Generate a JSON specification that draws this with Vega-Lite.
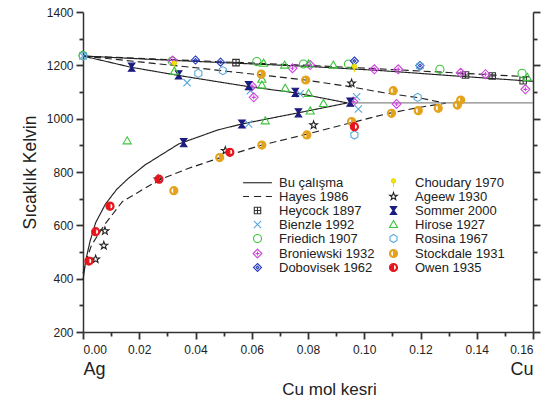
{
  "$schema": "https://vega.github.io/schema/vega-lite/v6.json",
  "width": 450,
  "height": 320,
  "padding": {"left": 21, "top": 6, "right": 8, "bottom": 5},
  "config": {
    "view": {"stroke": null},
    "font": "Liberation Sans",
    "axis": {"labelFont": "Liberation Sans", "titleFont": "Liberation Sans", "titleFontWeight": "normal", "labelColor": "#222", "titleColor": "#222", "domainColor": "#333", "tickColor": "#333", "grid": false}
  },
  "datasets": {
    "curves": [
      {"curve": "liq_s", "style": "solid", "x": 0, "T": 1235},
      {"curve": "liq_s", "style": "solid", "x": 0.025, "T": 1222},
      {"curve": "liq_s", "style": "solid", "x": 0.05, "T": 1210},
      {"curve": "liq_s", "style": "solid", "x": 0.08, "T": 1196},
      {"curve": "liq_s", "style": "solid", "x": 0.105, "T": 1181},
      {"curve": "liq_s", "style": "solid", "x": 0.13, "T": 1162},
      {"curve": "liq_s", "style": "solid", "x": 0.16, "T": 1140},
      {"curve": "liq_d", "style": "dashed", "x": 0, "T": 1235},
      {"curve": "liq_d", "style": "dashed", "x": 0.025, "T": 1224},
      {"curve": "liq_d", "style": "dashed", "x": 0.05, "T": 1213},
      {"curve": "liq_d", "style": "dashed", "x": 0.08, "T": 1200},
      {"curve": "liq_d", "style": "dashed", "x": 0.105, "T": 1187},
      {"curve": "liq_d", "style": "dashed", "x": 0.13, "T": 1173},
      {"curve": "liq_d", "style": "dashed", "x": 0.16, "T": 1156},
      {"curve": "sol_s", "style": "solid", "x": 0, "T": 1235},
      {"curve": "sol_s", "style": "solid", "x": 0.017, "T": 1193},
      {"curve": "sol_s", "style": "solid", "x": 0.034, "T": 1162},
      {"curve": "sol_s", "style": "solid", "x": 0.047, "T": 1140},
      {"curve": "sol_s", "style": "solid", "x": 0.059, "T": 1120},
      {"curve": "sol_s", "style": "solid", "x": 0.0755, "T": 1097},
      {"curve": "sol_s", "style": "solid", "x": 0.094, "T": 1059},
      {"curve": "solv_s", "style": "solid", "x": 0, "T": 395},
      {"curve": "solv_s", "style": "solid", "x": 0.001, "T": 470},
      {"curve": "solv_s", "style": "solid", "x": 0.0025, "T": 540},
      {"curve": "solv_s", "style": "solid", "x": 0.0045, "T": 610},
      {"curve": "solv_s", "style": "solid", "x": 0.008, "T": 680},
      {"curve": "solv_s", "style": "solid", "x": 0.012, "T": 735},
      {"curve": "solv_s", "style": "solid", "x": 0.016, "T": 775},
      {"curve": "solv_s", "style": "solid", "x": 0.022, "T": 826},
      {"curve": "solv_s", "style": "solid", "x": 0.034, "T": 905},
      {"curve": "solv_s", "style": "solid", "x": 0.048, "T": 958},
      {"curve": "solv_s", "style": "solid", "x": 0.0565, "T": 980},
      {"curve": "solv_s", "style": "solid", "x": 0.065, "T": 998},
      {"curve": "solv_s", "style": "solid", "x": 0.0766, "T": 1022},
      {"curve": "solv_s", "style": "solid", "x": 0.094, "T": 1059},
      {"curve": "sol_d", "style": "dashed", "x": 0, "T": 1235},
      {"curve": "sol_d", "style": "dashed", "x": 0.02, "T": 1213},
      {"curve": "sol_d", "style": "dashed", "x": 0.04, "T": 1191},
      {"curve": "sol_d", "style": "dashed", "x": 0.0518, "T": 1177},
      {"curve": "sol_d", "style": "dashed", "x": 0.065, "T": 1162},
      {"curve": "sol_d", "style": "dashed", "x": 0.079, "T": 1145},
      {"curve": "sol_d", "style": "dashed", "x": 0.095, "T": 1120},
      {"curve": "sol_d", "style": "dashed", "x": 0.107, "T": 1097},
      {"curve": "sol_d", "style": "dashed", "x": 0.119, "T": 1079},
      {"curve": "sol_d", "style": "dashed", "x": 0.129, "T": 1058},
      {"curve": "solv_d", "style": "dashed", "x": 0, "T": 420},
      {"curve": "solv_d", "style": "dashed", "x": 0.0015, "T": 480},
      {"curve": "solv_d", "style": "dashed", "x": 0.003, "T": 525},
      {"curve": "solv_d", "style": "dashed", "x": 0.0075, "T": 600},
      {"curve": "solv_d", "style": "dashed", "x": 0.014, "T": 689},
      {"curve": "solv_d", "style": "dashed", "x": 0.027, "T": 770},
      {"curve": "solv_d", "style": "dashed", "x": 0.0376, "T": 814},
      {"curve": "solv_d", "style": "dashed", "x": 0.048, "T": 851},
      {"curve": "solv_d", "style": "dashed", "x": 0.0636, "T": 901},
      {"curve": "solv_d", "style": "dashed", "x": 0.0796, "T": 942},
      {"curve": "solv_d", "style": "dashed", "x": 0.0955, "T": 985},
      {"curve": "solv_d", "style": "dashed", "x": 0.1086, "T": 1020},
      {"curve": "solv_d", "style": "dashed", "x": 0.12, "T": 1043},
      {"curve": "solv_d", "style": "dashed", "x": 0.129, "T": 1058}
    ],
    "eutectic": [
      {"x": 0.094, "T": 1059},
      {"x": 0.16, "T": 1059}
    ],
    "points": [
      {"series": "Heycock 1897", "x": 0.0544, "T": 1210},
      {"series": "Heycock 1897", "x": 0.136, "T": 1164},
      {"series": "Heycock 1897", "x": 0.1455, "T": 1160},
      {"series": "Heycock 1897", "x": 0.1565, "T": 1142},
      {"series": "Bienzle 1992", "x": 0, "T": 1235},
      {"series": "Bienzle 1992", "x": 0.037, "T": 1135},
      {"series": "Bienzle 1992", "x": 0.0595, "T": 1105},
      {"series": "Bienzle 1992", "x": 0.0772, "T": 1093},
      {"series": "Bienzle 1992", "x": 0.0973, "T": 1082},
      {"series": "Bienzle 1992", "x": 0.0979, "T": 1036},
      {"series": "Bienzle 1992", "x": 0.0589, "T": 980},
      {"series": "Friedich 1907", "x": 0, "T": 1237},
      {"series": "Friedich 1907", "x": 0.0317, "T": 1216},
      {"series": "Friedich 1907", "x": 0.0618, "T": 1214},
      {"series": "Friedich 1907", "x": 0.0784, "T": 1205},
      {"series": "Friedich 1907", "x": 0.0944, "T": 1205},
      {"series": "Friedich 1907", "x": 0.1269, "T": 1185},
      {"series": "Friedich 1907", "x": 0.1561, "T": 1170},
      {"series": "Broniewski 1932", "x": 0.0319, "T": 1218},
      {"series": "Broniewski 1932", "x": 0.0601, "T": 1122},
      {"series": "Broniewski 1932", "x": 0.0607, "T": 1080},
      {"series": "Broniewski 1932", "x": 0.0745, "T": 1189},
      {"series": "Broniewski 1932", "x": 0.0808, "T": 1201},
      {"series": "Broniewski 1932", "x": 0.0961, "T": 1064},
      {"series": "Broniewski 1932", "x": 0.1036, "T": 1185},
      {"series": "Broniewski 1932", "x": 0.1115, "T": 1055},
      {"series": "Broniewski 1932", "x": 0.1121, "T": 1185},
      {"series": "Broniewski 1932", "x": 0.1343, "T": 1172},
      {"series": "Broniewski 1932", "x": 0.1431, "T": 1167},
      {"series": "Broniewski 1932", "x": 0.1573, "T": 1110},
      {"series": "Dobovisek 1962", "x": 0.04, "T": 1220},
      {"series": "Dobovisek 1962", "x": 0.0489, "T": 1212},
      {"series": "Dobovisek 1962", "x": 0.0965, "T": 1216},
      {"series": "Dobovisek 1962", "x": 0.1198, "T": 1199},
      {"series": "Choudary 1970", "x": 0.0325, "T": 1201},
      {"series": "Choudary 1970", "x": 0.0965, "T": 1189},
      {"series": "Ageew 1930", "x": 0.0045, "T": 473},
      {"series": "Ageew 1930", "x": 0.0074, "T": 524},
      {"series": "Ageew 1930", "x": 0.0078, "T": 579},
      {"series": "Ageew 1930", "x": 0.0267, "T": 773},
      {"series": "Ageew 1930", "x": 0.0506, "T": 880},
      {"series": "Ageew 1930", "x": 0.082, "T": 976},
      {"series": "Ageew 1930", "x": 0.0955, "T": 1133},
      {"series": "Sommer 2000", "x": 0.0173, "T": 1193},
      {"series": "Sommer 2000", "x": 0.034, "T": 1164},
      {"series": "Sommer 2000", "x": 0.0589, "T": 1124},
      {"series": "Sommer 2000", "x": 0.0755, "T": 1099},
      {"series": "Sommer 2000", "x": 0.095, "T": 1062},
      {"series": "Sommer 2000", "x": 0.0358, "T": 910},
      {"series": "Sommer 2000", "x": 0.0565, "T": 980},
      {"series": "Sommer 2000", "x": 0.0766, "T": 1022},
      {"series": "Hirose 1927", "x": 0.0157, "T": 917},
      {"series": "Hirose 1927", "x": 0.0325, "T": 1178},
      {"series": "Hirose 1927", "x": 0.0642, "T": 1208},
      {"series": "Hirose 1927", "x": 0.0717, "T": 1201},
      {"series": "Hirose 1927", "x": 0.0802, "T": 1205},
      {"series": "Hirose 1927", "x": 0.089, "T": 1201},
      {"series": "Hirose 1927", "x": 0.0636, "T": 1148},
      {"series": "Hirose 1927", "x": 0.0636, "T": 1126},
      {"series": "Hirose 1927", "x": 0.0719, "T": 1114},
      {"series": "Hirose 1927", "x": 0.0802, "T": 1095},
      {"series": "Hirose 1927", "x": 0.0855, "T": 1057},
      {"series": "Hirose 1927", "x": 0.0808, "T": 1029},
      {"series": "Hirose 1927", "x": 0.0648, "T": 992},
      {"series": "Hirose 1927", "x": 0.158, "T": 1155},
      {"series": "Rosina 1967", "x": 0, "T": 1235},
      {"series": "Rosina 1967", "x": 0.041, "T": 1170},
      {"series": "Rosina 1967", "x": 0.0497, "T": 1180},
      {"series": "Rosina 1967", "x": 0.1198, "T": 1197},
      {"series": "Rosina 1967", "x": 0.119, "T": 1080},
      {"series": "Rosina 1967", "x": 0.0965, "T": 939},
      {"series": "Stockdale 1931", "x": 0.0323, "T": 730},
      {"series": "Stockdale 1931", "x": 0.0486, "T": 854},
      {"series": "Stockdale 1931", "x": 0.0636, "T": 901},
      {"series": "Stockdale 1931", "x": 0.0796, "T": 939},
      {"series": "Stockdale 1931", "x": 0.0955, "T": 989},
      {"series": "Stockdale 1931", "x": 0.1097, "T": 1020},
      {"series": "Stockdale 1931", "x": 0.1192, "T": 1030},
      {"series": "Stockdale 1931", "x": 0.1263, "T": 1039},
      {"series": "Stockdale 1931", "x": 0.1331, "T": 1051},
      {"series": "Stockdale 1931", "x": 0.1343, "T": 1070},
      {"series": "Stockdale 1931", "x": 0.0634, "T": 1167},
      {"series": "Stockdale 1931", "x": 0.0792, "T": 1145},
      {"series": "Stockdale 1931", "x": 0.1103, "T": 1105},
      {"series": "Owen 1935", "x": 0.0021, "T": 466},
      {"series": "Owen 1935", "x": 0.0045, "T": 576},
      {"series": "Owen 1935", "x": 0.0096, "T": 672},
      {"series": "Owen 1935", "x": 0.027, "T": 773},
      {"series": "Owen 1935", "x": 0.0522, "T": 874},
      {"series": "Owen 1935", "x": 0.0965, "T": 970}
    ]
  },
  "layer": [
    {
      "data": {"name": "curves"},
      "mark": {"type": "line", "color": "#222", "strokeWidth": 1.15},
      "encoding": {
        "x": {
          "field": "x", "type": "quantitative",
          "scale": {"domain": [0, 0.16], "nice": false, "zero": false},
          "axis": {
            "orient": "bottom",
            "values": [0, 0.01, 0.02, 0.03, 0.04, 0.05, 0.06, 0.07, 0.08, 0.09, 0.1, 0.11, 0.12, 0.13, 0.14, 0.15, 0.16],
            "labelExpr": "round(datum.value*100) % 2 === 0 ? format(datum.value, '.2f') : ''",
            "tickSize": {"condition": {"test": "round(datum.value*100) % 2 === 0", "value": 7}, "value": 4},
            "tickWidth": 1.8,
            "domainWidth": 1.5,
            "labelFontSize": 12,
            "labelPadding": 5,
            "labelOverlap": false,
            "title": null
          }
        },
        "y": {
          "field": "T", "type": "quantitative",
          "scale": {"domain": [200, 1400], "nice": false, "zero": false},
          "axis": {
            "orient": "left",
            "values": [200, 300, 400, 500, 600, 700, 800, 900, 1000, 1100, 1200, 1300, 1400],
            "labelExpr": "datum.value % 200 === 0 ? datum.label : ''",
            "tickSize": {"condition": {"test": "datum.value % 200 === 0", "value": 7}, "value": 4},
            "tickWidth": 1.8,
            "domainWidth": 1.5,
            "labelFontSize": 12,
            "labelPadding": 3,
            "labelOverlap": false,
            "format": "d",
            "title": "Sıcaklık Kelvin",
            "titleFontSize": 17.5,
            "titlePadding": 7
          }
        },
        "detail": {"field": "curve"},
        "strokeDash": {"field": "style", "type": "nominal", "scale": {"domain": ["solid", "dashed"], "range": [[1, 0], [7, 4]]}, "legend": null}
      }
    },
    {
      "data": {"name": "eutectic"},
      "mark": {"type": "line", "color": "#888", "strokeWidth": 1.3},
      "encoding": {
        "x": {"field": "x", "type": "quantitative", "axis": null},
        "y": {"field": "T", "type": "quantitative", "axis": null}
      }
    },
    {
      "data": {"name": "points"},
      "mark": {"type": "point", "size": 66, "strokeWidth": 1.1, "opacity": 1, "filled": true},
      "encoding": {
        "x": {
          "field": "x", "type": "quantitative",
          "axis": {
            "orient": "bottom",
            "values": [0, 0.16],
            "labelExpr": "datum.value < 0.08 ? 'Ag' : 'Cu'",
            "ticks": false,
            "domain": false,
            "labelFontSize": 18,
            "labelPadding": 28,
            "labelOverlap": false,
            "title": "Cu mol kesri",
            "titleFontSize": 17,
            "titlePadding": 3,
            "titleX": 246
          }
        },
        "y": {
          "field": "T", "type": "quantitative",
          "axis": {
            "orient": "right",
            "values": [200, 300, 400, 500, 600, 700, 800, 900, 1000, 1100, 1200, 1300, 1400],
            "labels": false,
            "tickSize": {"condition": {"test": "datum.value % 200 === 0", "value": 7}, "value": 4},
            "tickWidth": 1.8,
            "domainWidth": 1.5,
            "title": null
          }
        },
        "stroke": {
          "field": "series", "type": "nominal",
          "scale": {
            "domain": ["Bu çalışma", "Hayes 1986", "Heycock 1897", "Bienzle 1992", "Friedich 1907", "Broniewski 1932", "Dobovisek 1962", "Choudary 1970", "Ageew 1930", "Sommer 2000", "Hirose 1927", "Rosina 1967", "Stockdale 1931", "Owen 1935"],
            "range": ["#222222", "#222222", "#333333", "#5aa8d8", "#3cc43c", "#cc44dd", "#2a3fc0", "#e8d800", "#222222", "#1b1b80", "#3cc43c", "#5aa8d8", "#e3a21a", "#e8141b"]
          },
          "legend": {
            "orient": "none", "legendX": 168, "legendY": 164, "columns": 2, "title": null,
            "symbolSize": 64, "symbolStrokeWidth": 1.1, "labelFontSize": 13, "labelFont": "Liberation Sans", "labelColor": "#222",
            "rowPadding": 0, "columnPadding": 12, "labelOffset": 15, "labelLimit": 200
          }
        },
        "fill": {
          "field": "series", "type": "nominal",
          "scale": {
            "domain": ["Bu çalışma", "Hayes 1986", "Heycock 1897", "Bienzle 1992", "Friedich 1907", "Broniewski 1932", "Dobovisek 1962", "Choudary 1970", "Ageew 1930", "Sommer 2000", "Hirose 1927", "Rosina 1967", "Stockdale 1931", "Owen 1935"],
            "range": ["transparent", "transparent", "transparent", "transparent", "transparent", "transparent", "transparent", "#f2e600", "transparent", "#1b1b80", "transparent", "transparent", "#e3a21a", "#e8141b"]
          }
        },
        "shape": {
          "field": "series", "type": "nominal",
          "scale": {
            "domain": ["Bu çalışma", "Hayes 1986", "Heycock 1897", "Bienzle 1992", "Friedich 1907", "Broniewski 1932", "Dobovisek 1962", "Choudary 1970", "Ageew 1930", "Sommer 2000", "Hirose 1927", "Rosina 1967", "Stockdale 1931", "Owen 1935"],
            "range": [
              "M-3.6,0H3.6",
              "M-3.6,0H-2.1M-0.9,0H0.9M2.1,0H3.6",
              "M-0.8,-0.8H0.8V0.8H-0.8ZM0,-0.8V0.8M-0.8,0H0.8",
              "M-0.9,-0.9L0.9,0.9M0.9,-0.9L-0.9,0.9",
              "circle",
              "M0,-1.1L1.1,0L0,1.1L-1.1,0ZM0,-0.5V0.5M-0.5,0H0.5",
              "M0,-1L1,0L0,1L-1,0ZM0,-0.35L0.35,0L0,0.35L-0.35,0Z",
              "M0,1V-0.1M0.5,-0.5A0.5,0.5 0 1,1 -0.5,-0.5A0.5,0.5 0 1,1 0.5,-0.5Z",
              "M0,-1L0.235,-0.324L0.951,-0.309L0.38,0.124L0.588,0.809L0,0.4L-0.588,0.809L-0.38,0.124L-0.951,-0.309L-0.235,-0.324Z",
              "M-0.8,-1H0.8L0.12,0L0.8,1H-0.8L-0.12,0Z",
              "M0,-1L1,0.75H-1Z",
              "M0,-1L0.866,-0.5L0.866,0.5L0,1L-0.866,0.5L-0.866,-0.5Z",
              "M0,-1A1,1 0 0,1 0,1ZM0,-1A1,1 0 0,0 0,1L0,0.75A0.75,0.75 0 0,1 0,-0.75Z",
              "M0,-1A1,1 0 0,0 0,1ZM0,-1A1,1 0 0,1 0,1L0,0.75A0.75,0.75 0 0,0 0,-0.75Z"
            ]
          }
        }
      }
    }
  ],
  "resolve": {"axis": {"x": "independent", "y": "independent"}}
}
